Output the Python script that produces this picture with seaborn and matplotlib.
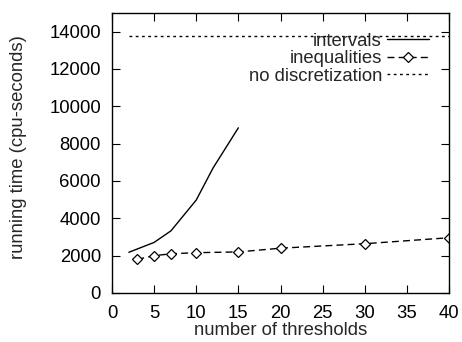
import matplotlib
matplotlib.use("Agg")
import matplotlib.pyplot as plt
import seaborn as sns
import pandas as pd

sns.set_theme(style="ticks")
plt.rcParams['font.family'] = ['Liberation Sans', 'DejaVu Sans']

intervals_x = [2, 5, 7, 10, 12, 15]
intervals_y = [2180, 2710, 3330, 4980, 6700, 8850]
ineq_x = [3, 5, 7, 10, 15, 20, 30, 40]
ineq_y = [1800, 2000, 2100, 2160, 2200, 2400, 2640, 2960]
nodisc_x = [2, 40]
nodisc_y = [13770, 13770]
xticks = [0, 5, 10, 15, 20, 25, 30, 35, 40]
yticks = [0, 2000, 4000, 6000, 8000, 10000, 12000, 14000]

FS = 13.3

fig = plt.figure(figsize=(4.62, 3.42), dpi=100)
ax = fig.add_axes([0.2424, 0.1433, 0.7295, 0.8187])

df1 = pd.DataFrame({"x": intervals_x, "y": intervals_y})
df2 = pd.DataFrame({"x": ineq_x, "y": ineq_y})
df3 = pd.DataFrame({"x": nodisc_x, "y": nodisc_y})

sns.lineplot(data=df1, x="x", y="y", ax=ax, color="black", lw=1.0,
             label="intervals")
sns.lineplot(data=df2, x="x", y="y", ax=ax, color="black", lw=1.0,
             linestyle=(0, (5, 3)), marker="D", markersize=5,
             markerfacecolor="white", markeredgecolor="black",
             markeredgewidth=0.9, label="inequalities")
sns.lineplot(data=df3, x="x", y="y", ax=ax, color="black", lw=1.0,
             linestyle=(0, (2, 2.5)), label="no discretization")

ax.set_xlim(0, 40)
ax.set_ylim(0, 15000)
ax.set_xticks(xticks)
ax.set_yticks(yticks)
ax.tick_params(direction="in", length=6, width=0.8, top=True, right=True,
               labelsize=FS, colors="black")
ax.tick_params(axis="y", pad=8)
ax.tick_params(axis="x", pad=9)
for s in ax.spines.values():
    s.set_visible(True)
    s.set_linewidth(1.0)
    s.set_color("black")
ax.set_xlabel("number of thresholds", fontsize=FS, labelpad=0)
ax.set_ylabel("running time (cpu-seconds)", fontsize=FS)
ax.yaxis.set_label_coords(-0.252, 0.52)

ax.legend(loc="upper right", frameon=False, markerfirst=False,
          fontsize=FS, handlelength=2.3, borderaxespad=0, borderpad=0,
          labelspacing=0.03, handletextpad=0.25,
          bbox_to_anchor=(0.9407, 0.93))

fig.savefig("out.png", dpi=100)
